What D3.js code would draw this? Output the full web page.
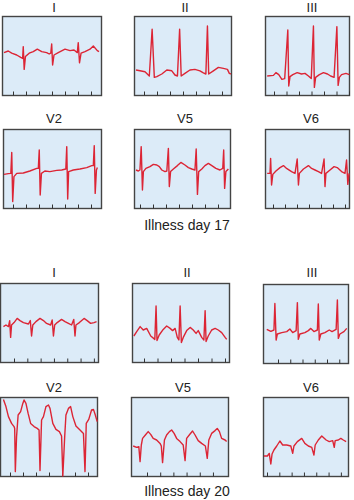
<!DOCTYPE html>
<html>
<head>
<meta charset="utf-8">
<script src="https://cdn.jsdelivr.net/npm/d3@7"></script>
<style>
  body { margin: 0; background: #fff; }
  text { font-family: "Liberation Sans", Arial, sans-serif; fill: #222; }
</style>
</head>
<body>
<div id="wrapper"></div>
<script>
// leads and captions
const leads = ['I', 'II', 'III', 'V2', 'V5', 'V6']
const captions = ['Illness day 17', 'Illness day 20']

// traces: [time ms, voltage mV]
const day17_I = [[32,0.17],[100,0.25],[155,0.14],[235,0.05],[300,-0.07],[330,-0.12],[340,0.47],[355,-0.67],[375,-0.03],[435,0.14],[500,0.22],[565,0.34],[635,0.22],[715,0.17],[755,0.10],[780,0.14],[795,0.6],[810,-0.45],[832,0.05],[900,0.17],[1008,0.34],[1088,0.27],[1152,0.30],[1205,0.17],[1220,0.67],[1240,-0.34],[1265,0.14],[1328,0.22],[1408,0.34],[1461,0.5],[1525,0.27],[1552,0.22]]
const day17_II = [[32,-0.70],[96,-0.74],[176,-0.79],[245,-1.0],[290,1.34],[325,-1.07],[365,-1.03],[445,-0.9],[525,-0.7],[605,-0.74],[655,-0.95],[695,-1.0],[730,1.34],[755,-1.0],[815,-0.87],[895,-0.7],[975,-0.67],[1055,-0.74],[1110,-0.84],[1150,-0.9],[1175,1.5],[1195,-0.9],[1270,-0.74],[1350,-0.57],[1430,-0.62],[1495,-0.67],[1525,-0.87],[1550,-0.9]]
const day17_III = [[35,-1.0],[135,-0.97],[175,-0.83],[220,-0.93],[270,-1.17],[315,-1.13],[365,1.3],[380,-1.5],[400,-1.03],[445,-0.93],[515,-0.83],[585,-0.9],[640,-0.87],[695,-1.0],[740,-1.13],[775,1.5],[790,-1.57],[810,-1.07],[870,-0.93],[935,-0.83],[1000,-0.9],[1050,-1.0],[1105,-1.07],[1150,1.47],[1170,-1.47],[1190,-1.07],[1225,-0.93],[1295,-0.87],[1350,-0.93]]
const day17_V2 = [[16,-0.27],[85,-0.23],[125,-0.22],[140,0.83],[155,-1.63],[175,-0.38],[220,-0.22],[325,-0.2],[430,-0.1],[540,0.03],[565,0.03],[580,0.95],[595,-1.3],[615,-0.22],[670,-0.1],[750,-0.13],[860,-0.07],[940,-0.05],[1005,0],[1020,1.12],[1035,-1.5],[1050,-0.13],[1125,-0.05],[1230,0],[1340,0.07],[1420,0.17],[1445,0.17],[1460,1.17],[1475,-1.22],[1495,-0.05],[1510,0.07]]
const day17_V5 = [[32,-0.05],[70,-0.1],[95,-0.05],[115,1.12],[135,-1.05],[150,-0.13],[190,0.03],[255,0.12],[310,0.23],[365,0.2],[405,0.12],[445,-0.05],[495,-0.13],[525,-0.1],[550,1.03],[565,-0.88],[585,-0.13],[630,0],[695,0.17],[750,0.33],[815,0.2],[870,0.07],[925,0],[975,-0.05],[995,1.0],[1015,-1.27],[1035,-0.13],[1085,0],[1135,0.17],[1190,0.28],[1245,0.17],[1310,0.03],[1375,-0.05],[1420,0.03],[1435,0.95],[1450,-0.97],[1470,-0.13],[1510,0]]
const day17_V6 = [[35,-0.22],[80,-0.22],[90,0.53],[105,-0.8],[125,-0.27],[175,-0.1],[240,0.07],[295,0.17],[345,0.03],[425,-0.13],[480,-0.22],[515,0.5],[535,-0.8],[550,-0.22],[615,0],[695,0.17],[745,0.03],[800,-0.05],[855,-0.13],[905,-0.22],[945,0.5],[960,-0.88],[975,-0.22],[1040,-0.05],[1105,0.12],[1155,0.07],[1225,-0.13],[1280,-0.22],[1305,0.45],[1325,-0.77],[1345,-0.22]]

const day20_I = [[55,-0.18],[95,-0.1],[135,-0.18],[155,0.12],[170,-0.72],[185,-0.1],[225,0.02],[275,0.23],[320,0.12],[375,0.02],[455,-0.05],[485,0.12],[505,-0.65],[525,-0.1],[575,0.07],[640,0.23],[695,0.12],[745,-0.02],[810,-0.1],[835,0.15],[855,-0.65],[875,-0.1],[915,0.02],[985,0.18],[1040,0.07],[1095,-0.02],[1145,-0.1],[1180,0.18],[1200,-0.65],[1215,-0.1],[1270,0.02],[1345,0.23],[1395,0.12],[1450,-0.02],[1505,0.02],[1545,0.07]]
const day20_II = [[30,-0.65],[75,-0.43],[130,-0.18],[180,-0.35],[235,-0.27],[300,-0.65],[365,-0.82],[385,0.85],[400,-0.88],[435,-0.6],[500,-0.32],[555,-0.15],[610,-0.27],[650,-0.38],[690,-0.27],[725,-0.72],[750,-0.85],[770,0.85],[790,-0.98],[820,-0.72],[875,-0.38],[930,-0.22],[980,-0.35],[1025,-0.52],[1060,-0.38],[1115,-0.72],[1150,-0.85],[1170,0.62],[1185,-0.93],[1220,-0.65],[1275,-0.35],[1330,-0.27],[1380,-0.35],[1435,-0.48],[1490,-0.72],[1515,-0.82]]
const day20_III = [[60,-0.27],[125,-0.37],[175,-0.3],[190,1.03],[210,-0.8],[230,-0.5],[300,-0.43],[380,-0.38],[430,-0.25],[475,-0.43],[530,-0.33],[550,1.07],[565,-0.77],[590,-0.5],[670,-0.43],[725,-0.33],[765,-0.22],[815,-0.38],[870,-0.3],[885,1.0],[900,-0.8],[925,-0.5],[990,-0.43],[1060,-0.3],[1105,-0.38],[1170,-0.27],[1190,1.2],[1205,-0.72],[1230,-0.5],[1295,-0.38],[1340,-0.22]]
const day20_V2 = [[55,1.88],[95,1.52],[135,1.02],[185,0.68],[225,0.52],[235,0.43],[245,-1.73],[265,0.02],[290,1.1],[330,1.27],[365,1.68],[385,1.85],[415,1.68],[450,1.18],[490,0.68],[545,0.52],[595,0.43],[625,0.35],[640,-1.68],[665,0.85],[695,1.02],[735,1.52],[775,1.6],[800,1.43],[845,0.68],[895,0.38],[950,0.27],[985,0.05],[1005,-1.95],[1035,0.02],[1055,1.1],[1095,1.43],[1130,1.52],[1165,1.02],[1215,0.55],[1280,0.35],[1335,0.18],[1360,-1.73],[1380,0.68],[1420,0.88],[1465,1.35],[1495,1.38],[1525,1.1],[1555,0.77]]
const day20_V5 = [[35,-0.45],[90,-0.52],[125,-0.48],[145,-1.23],[165,-0.4],[185,-0.07],[230,0.1],[275,0.27],[315,0.13],[355,-0.07],[410,-0.15],[465,-0.32],[485,-0.45],[505,-1.28],[535,-0.15],[570,0.1],[615,0.27],[650,0.35],[690,0.18],[730,-0.07],[785,-0.23],[835,-0.4],[865,-1.18],[890,-0.07],[945,0.15],[985,0.3],[1025,0.1],[1075,-0.18],[1130,-0.32],[1190,-0.45],[1220,-1.07],[1245,-0.15],[1290,0.18],[1345,0.32],[1380,0.43],[1415,0.27],[1450,-0.07],[1505,-0.15],[1530,-0.23]]
const day20_V6 = [[15,-0.95],[70,-0.95],[100,-0.82],[125,-1.35],[145,-0.85],[175,-0.65],[220,-0.45],[270,-0.2],[315,-0.4],[380,-0.4],[445,-0.45],[475,-0.82],[495,-0.45],[550,-0.23],[620,-0.07],[670,-0.32],[725,-0.45],[780,-0.52],[815,-0.9],[835,-0.4],[885,-0.15],[940,0.05],[1010,-0.15],[1060,-0.23],[1115,-0.18],[1140,-0.52],[1155,-0.18],[1205,-0.15],[1245,-0.07],[1285,-0.15],[1330,-0.23]]

const traces = [day17_I, day17_II, day17_III, day17_V2, day17_V5, day17_V6,
                day20_I, day20_II, day20_III, day20_V2, day20_V5, day20_V6]

// layout of each panel (px) and its timing marks (ms)
const msPerPx = 16
const layout = [
    { x: 2,   y: 16,  w: 100, labelX: 54,  labelY: 12,  tick0: 176, step: 208, n: 7 },
    { x: 134, y: 16,  w: 98,  labelX: 185, labelY: 12,  tick0: 160, step: 208, n: 7 },
    { x: 265, y: 16,  w: 85,  labelX: 312, labelY: 12,  tick0: 144, step: 200, n: 7 },
    { x: 3,   y: 129, w: 99,  labelX: 54,  labelY: 123, tick0: 160, step: 208, n: 7 },
    { x: 134, y: 129, w: 97,  labelX: 185, labelY: 123, tick0: 96,  step: 208, n: 7 },
    { x: 265, y: 129, w: 85,  labelX: 311, labelY: 123, tick0: 128, step: 192, n: 7 },
    { x: 0,   y: 283, w: 99,  labelX: 54,  labelY: 277, tick0: 224, step: 213, n: 7 },
    { x: 132, y: 283, w: 98,  labelX: 187, labelY: 277, tick0: 192, step: 216, n: 7 },
    { x: 263, y: 284, w: 86,  labelX: 312, labelY: 277, tick0: 240, step: 196, n: 6 },
    { x: 0,   y: 397, w: 98,  labelX: 54,  labelY: 392, tick0: 160, step: 208, n: 7 },
    { x: 131, y: 397, w: 98,  labelX: 183, labelY: 392, tick0: 256, step: 211, n: 6 },
    { x: 263, y: 397, w: 86,  labelX: 311, labelY: 392, tick0: 64,  step: 197, n: 7 }
]
const panelH = 80

const svg = d3.select('#wrapper').append('svg')
    .attr('width', 354)
    .attr('height', 500)

layout.forEach((p, i) => {
    const data = traces[i]
    const xScale = d3.scaleLinear()
        .domain([0, p.w * msPerPx])
        .range([p.x, p.x + p.w])
    const yScale = d3.scaleLinear()
        .domain([-2, 2])
        .range([p.y + panelH, p.y])

    svg.append('rect')
        .attr('x', p.x + 0.5)
        .attr('y', p.y + 0.5)
        .attr('width', p.w - 1)
        .attr('height', panelH - 1)
        .attr('fill', '#dcebf8')
        .attr('stroke', '#444')
        .attr('stroke-width', 1.4)

    const ticks = d3.range(p.n).map(k => p.tick0 + k * p.step)
    const axis = d3.axisBottom(xScale)
        .tickValues(ticks)
        .tickSizeInner(-4)
        .tickSizeOuter(0)
        .tickFormat('')
    const gAxis = svg.append('g')
        .attr('transform', `translate(0, ${p.y + panelH - 0.5})`)
        .call(axis)
    gAxis.select('.domain').remove()
    gAxis.selectAll('.tick line').attr('stroke', '#333').attr('stroke-width', 1)

    const line = d3.line()
        .x(d => xScale(d[0]))
        .y(d => yScale(d[1]))
        .curve(d3.curveLinear)

    svg.append('path')
        .datum(data)
        .attr('d', line)
        .attr('fill', 'none')
        .attr('stroke', '#dc2535')
        .attr('stroke-width', 1.4)
        .attr('stroke-linejoin', 'round')

    svg.append('text')
        .attr('x', p.labelX)
        .attr('y', p.labelY)
        .attr('text-anchor', 'middle')
        .style('font-size', '13px')
        .text(leads[i % 6])
})

svg.selectAll('.caption')
    .data(captions)
    .enter()
    .append('text')
    .attr('class', 'caption')
    .attr('x', 187)
    .attr('y', (d, i) => i === 0 ? 230 : 496)
    .attr('text-anchor', 'middle')
    .style('font-size', '14px')
    .text(d => d)
</script>
</body>
</html>
